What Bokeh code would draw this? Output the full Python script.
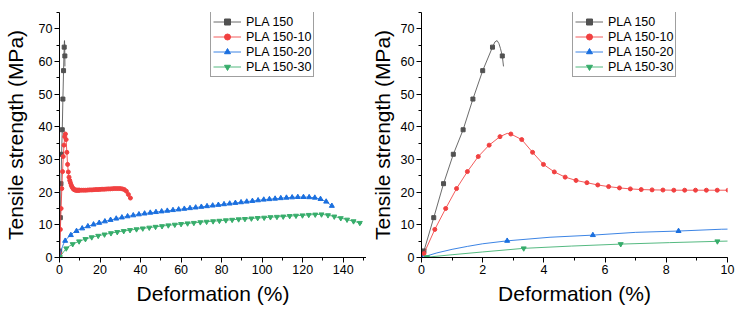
from bokeh.plotting import figure
from bokeh.models import Legend, LegendItem, SingleIntervalTicker, Range1d
from bokeh.layouts import row
from bokeh.embed import file_html
from bokeh.resources import INLINE

# ---------------- data ----------------
series_names = ["PLA 150", "PLA 150-10", "PLA 150-20", "PLA 150-30"]

# PLA 150 : marker points and extra line vertices
pla150_mx = [0.08, 0.40, 0.72, 1.04, 1.36, 1.68, 2.00, 2.32, 2.64]
pla150_my = [2.0, 12.2, 22.6, 31.6, 39.1, 48.5, 57.2, 64.4, 61.7]
pla150_ex = [0.0, 2.40, 2.47, 2.53, 2.58, 2.68]
pla150_ey = [0.0, 66.0, 66.4, 65.5, 64.0, 58.5]

# PLA 150-10
pla10_mx = [0.08, 0.435, 0.79, 1.145, 1.50, 1.855, 2.21, 2.565, 2.92, 3.275,
            3.63, 3.985, 4.34, 4.695, 5.05, 5.405, 5.76, 6.115, 6.47, 6.825,
            7.18, 7.535, 7.89, 8.245, 8.60, 8.955, 9.31, 9.665, 10.02,
            11, 12, 13, 14, 15, 16, 17, 18, 19, 20, 21, 22, 23, 24, 25,
            26, 27, 28, 29, 30, 31, 32, 33, 34, 35]
pla10_my = [1.2, 8.6, 15.0, 21.1, 26.3, 30.9, 34.4, 37.0, 37.8, 36.1,
            32.2, 28.5, 26.2, 24.6, 23.6, 22.9, 22.2, 21.7, 21.3, 21.0,
            20.8, 20.7, 20.65, 20.6, 20.6, 20.6, 20.6, 20.6, 20.6,
            20.6, 20.6, 20.6, 20.65, 20.7, 20.7, 20.75, 20.8, 20.8, 20.85, 20.9, 20.9, 20.95, 21.0, 21.0,
            21.05, 21.1, 21.1, 21.1, 21.1, 21.0, 20.8, 20.3, 19.3, 18.2]
pla10_ex = [0.0, 2.80, 35.3]
pla10_ey = [0.0, 38.0, 17.8]

# PLA 150-20
pla20_mx = [0.0, 2.8, 5.6, 8.4, 11.2, 14.0, 16.8, 19.6, 22.4, 25.2, 28.0, 30.8,
            33.6, 36.4, 39.2, 42.0, 44.8, 47.6, 50.4, 53.2, 56.0, 58.8, 61.6,
            64.4, 67.2, 70.0, 72.8, 75.6, 78.4, 81.2, 84.0, 86.8, 89.6, 92.4,
            95.2, 98.0, 100.8, 103.6, 106.4, 109.2, 112.0, 114.8, 117.6, 120.4,
            123.2, 126.0, 128.8, 131.6, 134.4]
pla20_my = [0.0, 5.1, 6.85, 8.1, 8.9, 9.55, 10.1, 10.6, 11.05, 11.5, 11.9, 12.25,
            12.6, 12.9, 13.2, 13.45, 13.7, 13.9, 14.1, 14.3, 14.5, 14.7, 14.9,
            15.1, 15.3, 15.5, 15.7, 15.9, 16.1, 16.3, 16.5, 16.7, 16.9, 17.1,
            17.3, 17.5, 17.7, 17.85, 18.0, 18.15, 18.3, 18.4, 18.5, 18.5,
            18.45, 18.3, 17.9, 17.1, 15.8]
pla20_ex = [0.5, 1.0, 1.5, 2.0, 4.2, 7.0, 9.8, 135.2]
pla20_ey = [1.4, 2.5, 3.4, 4.2, 6.2, 7.7, 8.65, 15.4]

# PLA 150-30
pla30_mx = [0.18, 3.34, 6.51, 9.67, 12.8, 15.9, 19.1, 22.2, 25.4, 28.5, 31.7,
            34.8, 38.0, 41.1, 44.3, 47.4, 50.6, 53.7, 56.9, 60.0, 63.2, 66.3,
            69.5, 72.6, 75.8, 78.9, 82.1, 85.2, 88.4, 91.5, 94.7, 97.8, 101.0,
            104.1, 107.3, 110.4, 113.6, 116.7, 119.9, 123.0, 126.2, 129.3,
            132.5, 135.6, 138.8, 141.9, 145.1, 148.2]
pla30_my = [0.1, 2.8, 4.1, 4.95, 5.65, 6.2, 6.65, 7.05, 7.45, 7.8, 8.1,
            8.4, 8.65, 8.9, 9.15, 9.4, 9.6, 9.85, 10.05, 10.25, 10.45, 10.6,
            10.8, 10.95, 11.1, 11.25, 11.4, 11.55, 11.7, 11.8, 11.95, 12.1, 12.2,
            12.35, 12.45, 12.55, 12.7, 12.8, 12.9, 13.05, 13.15, 13.2,
            12.95, 12.55, 12.05, 11.6, 11.1, 10.6]
pla30_ex = [0.0, 1.0, 2.0, 4.9, 8.1, 149.3]
pla30_ey = [0.0, 0.85, 1.7, 3.5, 4.55, 10.3]

colors = ["#515151", "#F14040", "#1A6FDF", "#37AD6B"]
markers = ["square", "circle", "triangle", "inverted_triangle"]
msizes = [4, 4, 5, 5]

y_label = "Tensile strength (MPa)"
x_label = "Deformation (%)"

FONT = "Liberation Sans"


def merged(mx, my, ex, ey):
    pts = sorted(zip(list(mx) + list(ex), list(my) + list(ey)))
    return [p[0] for p in pts], [p[1] for p in pts]


series = [
    (pla150_mx, pla150_my, pla150_ex, pla150_ey),
    (pla10_mx, pla10_my, pla10_ex, pla10_ey),
    (pla20_mx, pla20_my, pla20_ex, pla20_ey),
    (pla30_mx, pla30_my, pla30_ex, pla30_ey),
]


def make_fig(xmax, xint, bl, br, fw, lab_standoff):
    p = figure(frame_width=fw, frame_height=245,
               x_range=Range1d(0, xmax), y_range=Range1d(0, 75),
               output_backend="svg", toolbar_location=None,
               min_border_left=bl, min_border_right=br,
               min_border_top=12, min_border_bottom=53)
    p.xgrid.visible = False
    p.ygrid.visible = False
    p.outline_line_color = None
    p.background_fill_color = "white"
    p.border_fill_color = "white"

    p.xaxis.ticker = SingleIntervalTicker(interval=xint, num_minor_ticks=2)
    p.yaxis.ticker = SingleIntervalTicker(interval=10, num_minor_ticks=2)
    for ax in (p.xaxis, p.yaxis):
        ax.axis_line_color = "black"
        ax.axis_line_width = 1
        ax.major_tick_line_color = "black"
        ax.minor_tick_line_color = "black"
        ax.major_tick_in = 0
        ax.major_tick_out = 5
        ax.minor_tick_in = 0
        ax.minor_tick_out = 3
        ax.major_label_text_font = FONT
        ax.major_label_text_font_size = "12.5px"
        ax.major_label_text_color = "black"
        ax.major_label_standoff = 2
        ax.axis_label_text_font = FONT
        ax.axis_label_text_font_size = "21px"
        ax.axis_label_text_font_style = "normal"
        ax.axis_label_text_color = "black"
    p.xaxis.axis_label = x_label
    p.yaxis.axis_label = y_label
    p.xaxis.axis_label_standoff = 5
    p.yaxis.axis_label_standoff = lab_standoff

    items = []
    for i, (mx, my, ex, ey) in enumerate(series):
        lx, ly = merged(mx, my, ex, ey)
        lr = p.line(lx, ly, line_color=colors[i], line_width=1, line_alpha=0.85)
        sr = p.scatter(mx, my, marker=markers[i], size=msizes[i],
                       fill_color=colors[i], line_color=colors[i])
        items.append(LegendItem(label=series_names[i], renderers=[lr, sr]))

    leg = Legend(items=items, location=(151, 180), orientation="vertical")
    leg.glyph_width = 28
    leg.glyph_height = 15
    leg.label_height = 15
    leg.spacing = 0
    leg.padding = 2
    leg.margin = 0
    leg.label_standoff = 5
    leg.label_text_font = FONT
    leg.label_text_font_size = "12.5px"
    leg.label_text_color = "black"
    leg.border_line_color = "#404040"
    leg.border_line_width = 1
    leg.background_fill_color = "white"
    leg.background_fill_alpha = 1
    p.add_layout(leg, "center")
    return p


p1 = make_fig(151.5, 20, 58, 0, 307, 9)
p2 = make_fig(10, 2, 55, 12, 306, 4)

layout = row(p1, p2, spacing=0)
open("out.html", "w").write(file_html(layout, INLINE))
